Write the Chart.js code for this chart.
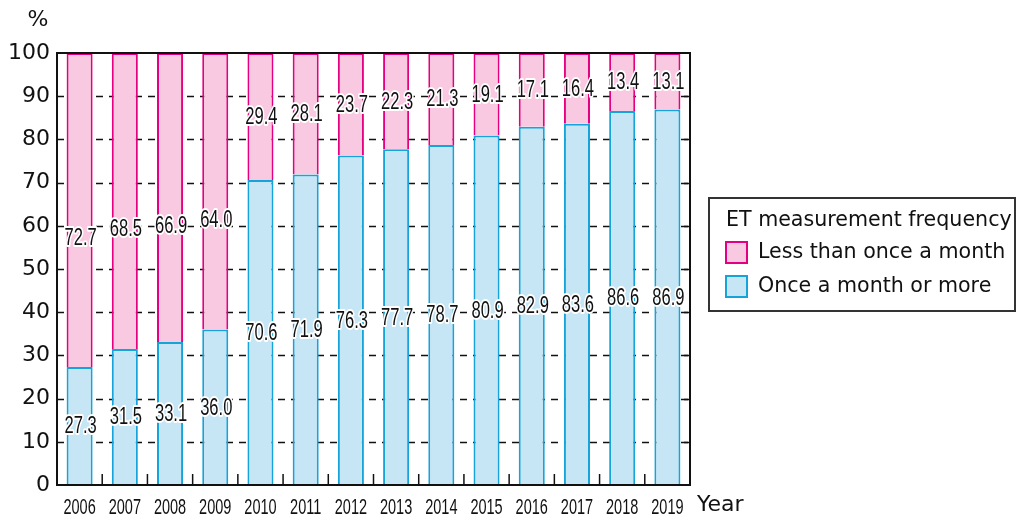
<!DOCTYPE html>
<html>
<head>
<meta charset="utf-8">
<script src="https://cdn.jsdelivr.net/npm/chart.js@4.4.1/dist/chart.umd.min.js"></script>
<style>
  html, body { margin: 0; padding: 0; background: #fff; }
  #wrap { width: 1019px; height: 517px; }
</style>
</head>
<body>
<div id="wrap"><canvas id="etChart" width="1019" height="517"></canvas></div>
<script>
const years = ["2006", "2007", "2008", "2009", "2010", "2011", "2012", "2013", "2014", "2015", "2016", "2017", "2018", "2019"];
const onceOrMore = [27.3, 31.5, 33.1, 36.0, 70.6, 71.9, 76.3, 77.7, 78.7, 80.9, 82.9, 83.6, 86.6, 86.9];
const lessThanOnce = [72.7, 68.5, 66.9, 64.0, 29.4, 28.1, 23.7, 22.3, 21.3, 19.1, 17.1, 16.4, 13.4, 13.1];
const yTicks = [0, 10, 20, 30, 40, 50, 60, 70, 80, 90, 100];
const legendTitle = "ET measurement frequency";

const PINK = "#f9c8e1", PINK_LINE = "#e4007f";
const BLUE = "#c6e5f5", BLUE_LINE = "#15a3d9";
const WIDE = "'DejaVu Sans', sans-serif";

// narrow text: Liberation Sans squeezed horizontally
function narrowText(ctx, text, x, y, size, sx, halo) {
  ctx.save();
  ctx.translate(x, y);
  ctx.scale(sx, 1);
  ctx.font = size + "px 'Liberation Sans', Arial, sans-serif";
  ctx.textAlign = "center";
  ctx.textBaseline = "middle";
  if (halo) {
    ctx.lineWidth = 4;
    ctx.strokeStyle = "#fff";
    ctx.lineJoin = "round";
    ctx.strokeText(text, 0, 0);
  }
  ctx.fillStyle = "#111";
  ctx.fillText(text, 0, 0);
  ctx.restore();
}

const decorations = {
  id: "decorations",
  beforeDatasetsDraw(chart) {
    const { ctx, chartArea: a, scales } = chart;
    ctx.save();
    ctx.strokeStyle = "#111";
    ctx.lineWidth = 1.5;
    ctx.setLineDash([7, 6]);
    yTicks.slice(1, -1).forEach(v => {
      const py = Math.round(scales.y.getPixelForValue(v)) + 0.5;
      ctx.beginPath(); ctx.moveTo(a.left, py); ctx.lineTo(a.right, py); ctx.stroke();
    });
    ctx.restore();
  },
  afterDatasetsDraw(chart) {
    const { ctx, chartArea: a, scales } = chart;
    const y = scales.y, x = scales.x;

    // frame
    ctx.save();
    ctx.strokeStyle = "#111";
    ctx.lineWidth = 2;
    ctx.strokeRect(a.left, a.top, a.right - a.left, a.bottom - a.top);
    ctx.lineWidth = 1.5;
    // right inner ticks
    yTicks.slice(1, -1).forEach(v => {
      const py = Math.round(y.getPixelForValue(v)) + 0.5;
      ctx.beginPath(); ctx.moveTo(a.right - 6, py); ctx.lineTo(a.right, py); ctx.stroke();
    });
    // bottom ticks between categories
    for (let i = 0; i < years.length - 1; i++) {
      const px = (x.getPixelForValue(i) + x.getPixelForValue(i + 1)) / 2;
      ctx.beginPath(); ctx.moveTo(px, a.bottom - 11); ctx.lineTo(px, a.bottom); ctx.stroke();
    }
    ctx.restore();

    // value labels
    chart.data.datasets.forEach((ds, di) => {
      chart.getDatasetMeta(di).data.forEach((bar, i) => {
        const v = ds.data[i];
        let cy = (bar.y + bar.base) / 2;
        if (di === 1 && v > 50) cy += 28;
        narrowText(ctx, v.toFixed(1), bar.x + 1, cy + 1, 23, 0.72, true);
      });
    });

    // x labels
    years.forEach((yr, i) => narrowText(ctx, yr, x.getPixelForValue(i), a.bottom + 23, 22, 0.66, false));

    ctx.save();
    ctx.fillStyle = "#111";
    ctx.font = "22px " + WIDE;
    ctx.textBaseline = "middle";
    ctx.textAlign = "left";
    ctx.fillText("Year", a.right + 7, a.bottom + 20);
    ctx.textAlign = "center";
    ctx.fillText("%", 38, 20);

    // legend box
    ctx.strokeStyle = "#333";
    ctx.lineWidth = 2;
    ctx.strokeRect(709, 198, 306, 113);
    ctx.font = "20.6px " + WIDE;
    ctx.textAlign = "left";
    ctx.fillText(legendTitle, 726, 221);
    const items = [chart.data.datasets[1], chart.data.datasets[0]];
    items.forEach((ds, k) => {
      const top = 242 + k * 34;
      ctx.fillStyle = ds.backgroundColor;
      ctx.fillRect(726, top, 21, 21);
      ctx.strokeStyle = ds.borderColor;
      ctx.lineWidth = 2;
      ctx.strokeRect(726, top, 21, 21);
      ctx.fillStyle = "#111";
      ctx.fillText(ds.label, 758, top + 11);
    });
    ctx.restore();
  }
};

new Chart(document.getElementById("etChart"), {
  type: "bar",
  data: {
    labels: years,
    datasets: [
      { label: "Once a month or more", data: onceOrMore, backgroundColor: BLUE, borderColor: BLUE_LINE,
        borderWidth: 2, borderSkipped: "bottom" },
      { label: "Less than once a month", data: lessThanOnce, backgroundColor: PINK, borderColor: PINK_LINE,
        borderWidth: 2, borderSkipped: "bottom" }
    ]
  },
  options: {
    animation: false,
    responsive: false,
    layout: { padding: { top: 53, right: 329, left: 0, bottom: 0 } },
    datasets: { bar: { categoryPercentage: 0.9, barPercentage: 0.64 } },
    scales: {
      x: {
        stacked: true,
        grid: { display: false, drawTicks: false },
        border: { display: false },
        ticks: { display: false },
        afterFit(s) { s.height = 32; }
      },
      y: {
        stacked: true,
        min: 0, max: 100,
        afterBuildTicks(s) { s.ticks = yTicks.map(v => ({ value: v })); },
        afterFit(s) { s.width = 57; },
        border: { display: false },
        grid: { display: false, drawTicks: false },
        ticks: { padding: 7, color: "#111", font: { family: WIDE, size: 22 } }
      }
    },
    plugins: { legend: { display: false }, tooltip: { enabled: false } }
  },
  plugins: [decorations]
});
</script>
</body>
</html>
